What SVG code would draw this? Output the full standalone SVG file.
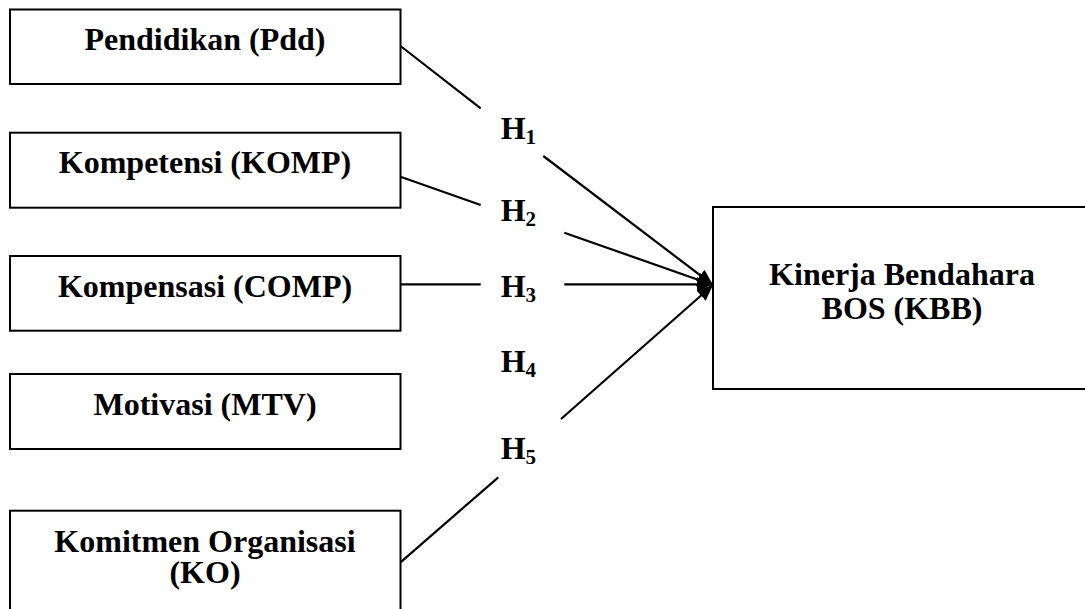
<svg xmlns="http://www.w3.org/2000/svg" width="1085" height="609" viewBox="0 0 1085 609">
<style>
.box{fill:#fff;stroke:#000;stroke-width:2}
.t{font-family:"Liberation Serif","Times New Roman",serif;font-weight:bold;font-size:32px;fill:#000;text-anchor:middle}
.h{font-family:"Liberation Serif","Times New Roman",serif;font-weight:bold;font-size:32px;fill:#000}
.s{font-size:21px}
.c{stroke:#000;stroke-width:2.2;fill:none}
</style>
<defs>
<marker id="arr" markerUnits="userSpaceOnUse" markerWidth="18" markerHeight="14" refX="16" refY="7" orient="auto">
<path d="M0,0 L16,7 L0,14 Z" fill="#000"/>
</marker>
</defs>
<rect width="1085" height="609" fill="#fff"/>
<g id="connectors">
<line class="c" x1="400.5" y1="46" x2="480.7" y2="108.3"/>
<line class="c" x1="543.3" y1="156" x2="713" y2="285" marker-end="url(#arr)"/>
<line class="c" x1="400.5" y1="176.7" x2="480.7" y2="205"/>
<line class="c" x1="564.3" y1="232.7" x2="713" y2="285" marker-end="url(#arr)"/>
<line class="c" x1="400.5" y1="284.3" x2="480.7" y2="284.3"/>
<line class="c" x1="564.3" y1="284.3" x2="713" y2="284.3" marker-end="url(#arr)"/>
<line class="c" x1="400.5" y1="562.3" x2="498.3" y2="477.3"/>
<line class="c" x1="561" y1="419" x2="713" y2="285" marker-end="url(#arr)"/>
</g>
<g id="labels">
<text class="h" x="500.7" y="138.7">H<tspan class="s" dy="5">1</tspan></text>
<text class="h" x="500.7" y="220.7">H<tspan class="s" dy="5">2</tspan></text>
<text class="h" x="500.7" y="296.7">H<tspan class="s" dy="5">3</tspan></text>
<text class="h" x="500.7" y="371.7">H<tspan class="s" dy="5">4</tspan></text>
<text class="h" x="500.7" y="459.3">H<tspan class="s" dy="5">5</tspan></text>
</g>
<g id="pdd">
<rect class="box" x="10" y="9.5" width="390.5" height="74.5"/>
<text class="t" x="205" y="50">Pendidikan (Pdd)</text>
</g>
<g id="komp">
<rect class="box" x="10" y="132.7" width="390.5" height="75"/>
<text class="t" x="205" y="173.3">Kompetensi (KOMP)</text>
</g>
<g id="comp">
<rect class="box" x="10" y="256" width="390.5" height="74.7"/>
<text class="t" x="205" y="296.7">Kompensasi (COMP)</text>
</g>
<g id="mtv">
<rect class="box" x="10" y="374" width="390.5" height="75"/>
<text class="t" x="205" y="415">Motivasi (MTV)</text>
</g>
<g id="ko">
<rect class="box" x="10" y="510.7" width="390.5" height="120"/>
<text class="t" x="205" y="551.5">Komitmen Organisasi</text>
<text class="t" x="205" y="583">(KO)</text>
</g>
<g id="kbb">
<rect class="box" x="713" y="207" width="390" height="182"/>
<text class="t" x="902" y="284.5">Kinerja Bendahara</text>
<text class="t" x="902" y="318.5">BOS (KBB)</text>
</g>
</svg>
